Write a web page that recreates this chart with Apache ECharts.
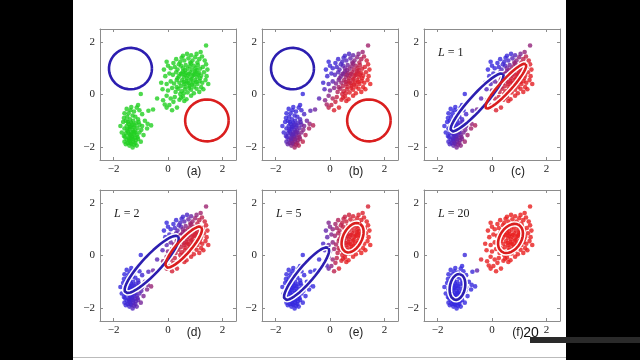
<!DOCTYPE html>
<html><head><meta charset="utf-8">
<script src="https://cdn.jsdelivr.net/npm/echarts@6/dist/echarts.min.js"></script>
<style>html,body{margin:0;padding:0;background:#fff}#c{width:640px;height:360px}</style>
</head><body><div id="c"></div>
<script>
// ---------- data ----------
const tickValues = [-2, 0, 2];
const panelLabels = ['(a)', '(b)', '(c)', '(d)', '(e)', '(f)'];
const iterLabels = ['', '', '1', '2', '5', '20'];

// standardized (eruption, waiting) points: lower-left cluster
const lowerCluster = [
[-1.52,-0.55],[-1.38,-0.60],[-1.45,-0.72],[-1.60,-0.72],[-1.25,-0.65],[-1.15,-0.50],[-1.05,-0.60],[-0.95,-0.75],
[-1.30,-0.80],[-1.50,-0.85],[-1.20,-0.85],[-1.10,-0.95],[-1.40,-0.95],[-1.55,-1.00],[-1.65,-1.05],[-1.28,-1.00],
[-1.35,-1.08],[-1.18,-1.10],[-1.45,-1.12],[-1.05,-1.15],[-0.75,-1.12],[-0.62,-1.18],[-1.52,-1.20],[-1.38,-1.22],
[-1.25,-1.25],[-1.12,-1.28],[-1.60,-1.30],[-1.42,-1.32],[-1.30,-1.35],[-1.20,-1.38],[-0.98,-1.35],[-1.48,-1.40],
[-1.35,-1.45],[-1.55,-1.48],[-1.25,-1.50],[-1.40,-1.55],[-1.15,-1.55],[-1.62,-1.58],[-1.30,-1.60],[-1.45,-1.65],
[-1.22,-1.65],[-1.35,-1.70],[-1.52,-1.72],[-1.10,-1.70],[-1.42,-1.78],[-1.28,-1.80],[-1.60,-1.80],[-1.48,-1.85],
[-1.35,-1.88],[-1.20,-1.85],[-1.42,-1.95],[-1.30,-2.02],[-1.55,-1.90],[-1.15,-1.95],[-1.00,-1.80],[-0.90,-1.55],
[-1.05,-1.45],[-1.70,-1.45],[-1.75,-1.20],[-0.85,-1.00],[-1.00,0.02],[-0.72,-0.62],[-1.10,-0.40],[-1.35,-0.48],
[-1.48,-1.05],[-1.32,-1.15],[-1.58,-1.62],[-1.18,-1.75],[-1.40,-1.25],[-1.27,-1.42],[-1.45,-1.50],[-1.33,-1.62],
[-1.50,-1.35],[-1.23,-1.18],[-1.38,-1.85],[-1.25,-1.92],[-1.12,-1.62],[-0.95,-1.20],[-0.77,-1.30],[-1.62,-0.90],
[-1.08,-1.05],[-1.42,-1.70],[-1.28,-1.72],[-1.36,-1.52],[-1.20,-1.45]
];
// upper-right cluster
const upperCluster = [
[1.40,1.87],[1.05,1.55],[0.85,1.50],[1.20,1.62],[0.55,1.48],[0.70,1.55],
[0.30,1.35],[0.45,1.25],[0.60,1.30],[0.75,1.38],[0.90,1.30],[1.00,1.42],[1.15,1.35],[1.25,1.45],[1.35,1.30],
[-0.05,1.25],[0.20,1.20],[0.82,1.22],[1.08,1.22],[0.50,1.40],
[0.10,1.00],[0.25,1.05],[0.35,0.95],[0.48,1.10],[0.55,1.00],[0.65,1.12],[0.72,0.98],[0.80,1.08],[0.88,0.95],
[0.95,1.10],[1.02,1.00],[1.10,1.12],[1.18,0.98],[1.28,1.05],[1.40,1.15],[0.40,1.15],[0.62,0.92],[0.85,1.18],
[1.05,0.92],[-0.15,0.95],[0.00,1.10],[1.45,0.95],
[-0.10,0.70],[0.05,0.80],[0.18,0.75],[0.30,0.85],[0.40,0.70],[0.50,0.80],[0.58,0.68],[0.66,0.82],[0.74,0.72],
[0.82,0.85],[0.90,0.70],[0.98,0.80],[1.06,0.68],[1.14,0.82],[1.22,0.72],[1.32,0.85],[1.42,0.70],[0.35,0.62],
[0.55,0.88],[0.70,0.62],[0.86,0.60],[1.00,0.88],[1.18,0.62],[0.62,0.75],[0.78,0.78],[0.94,0.75],[1.10,0.76],[0.46,0.78],
[-0.25,0.45],[-0.05,0.40],[0.10,0.50],[0.22,0.42],[0.32,0.55],[0.42,0.45],[0.52,0.55],[0.60,0.40],[0.68,0.52],
[0.76,0.42],[0.84,0.55],[0.92,0.45],[1.00,0.55],[1.08,0.40],[1.16,0.52],[1.26,0.45],[1.38,0.55],[1.48,0.40],
[0.48,0.32],[0.64,0.30],[0.80,0.32],[0.96,0.30],[0.58,0.48],[0.72,0.46],[0.88,0.38],[1.04,0.48],
[-0.20,0.20],[0.00,0.15],[0.15,0.25],[0.28,0.10],[0.38,0.22],[0.50,0.12],[0.62,0.20],[0.72,0.08],[0.85,0.18],
[0.95,0.05],[1.05,0.22],[1.15,0.10],[1.30,0.20],[0.45,0.02],[0.58,0.05],[0.78,0.25],[1.22,0.28],[0.32,0.28],
[-0.40,-0.15],[-0.18,-0.22],[-0.05,-0.05],[0.10,-0.15],[0.25,-0.10],[0.42,-0.20],[0.55,-0.08],[0.68,-0.18],
[0.85,-0.05],[0.60,-0.25],[0.48,-0.12],[0.20,-0.28],
[-0.55,-0.57],[-0.05,-0.50],[0.33,-0.50],[-0.12,-0.38],[0.05,-0.40],[0.15,-0.60]
];

// Gaussian components per panel (a..f): mean, semi-axes of drawn contour, angle (deg), weight
const blueMeanX = [-1.38, -1.38, -0.55, -0.60, -0.86, -1.27];
const blueMeanY = [ 0.99,  0.99, -0.30, -0.34, -0.69, -1.20];
const blueMajor = [ 0.79,  0.79,  1.45,  1.44,  1.27,  0.50];
const blueMinor = [ 0.79,  0.79,  0.28,  0.34,  0.30,  0.28];
const blueAngle = [    0,     0,    49,    48,    51,    80];
const redMeanX  = [ 1.43,  1.43,  0.51,  0.58,  0.83,  0.68];
const redMeanY  = [-0.99, -0.99,  0.32,  0.32,  0.68,  0.65];
const redMajor  = [ 0.80,  0.80,  1.12,  1.00,  0.60,  0.60];
const redMinor  = [ 0.80,  0.80,  0.22,  0.26,  0.35,  0.40];
const redAngle  = [    0,     0,    49,    50,    65,    60];
const redWeight = [  0.5,   0.5,   0.5,   0.5,  0.58,  0.63];

// ---------- drawing ----------
const points = lowerCluster.concat(upperCluster);
const BLUE = [52, 40, 222], RED = [232, 30, 30];
const gridLeft = [100, 262, 424], gridTop = [29, 190], W = 136, H = 131;
const fmt = v => v < 0 ? '\u2212' + Math.abs(v) : String(v);

function logComp(x, y, mx, my, a, b, ang, w) {
  const t = ang * Math.PI / 180, dx = x - mx, dy = y - my;
  const u = dx * Math.cos(t) + dy * Math.sin(t), v = -dx * Math.sin(t) + dy * Math.cos(t);
  return Math.log(w) - Math.log(a * b) - 0.5 * (u * u / (a * a) + v * v / (b * b));
}
function ellipse(mx, my, a, b, ang) {
  const t = ang * Math.PI / 180, out = [];
  for (let k = 0; k <= 90; k++) {
    const s = k / 90 * 2 * Math.PI;
    out.push([mx + a * Math.cos(s) * Math.cos(t) - b * Math.sin(s) * Math.sin(t),
              my + a * Math.cos(s) * Math.sin(t) + b * Math.sin(s) * Math.cos(t)]);
  }
  return out;
}
const mix = r => 'rgb(' + [0,1,2].map(j => Math.round(BLUE[j] * (1 - r) + RED[j] * r)).join(',') + ')';

const grids = [], xAxes = [], yAxes = [], series = [], graphics = [];
const lab = {customValues: tickValues, formatter: fmt, fontFamily: 'Liberation Serif', fontSize: 11, color: '#222'};
for (let i = 0; i < 6; i++) {
  const col = i % 3, row = Math.floor(i / 3);
  grids.push({left: gridLeft[col], top: gridTop[row], width: W, height: H});
  const common = {type: 'value', min: -2.5, max: 2.5, gridIndex: i, splitLine: {show: false},
    axisLine: {show: true, onZero: false, lineStyle: {color: '#8c8c8c', width: 1}},
    axisTick: {show: true, inside: true, length: 3, customValues: tickValues, lineStyle: {color: '#8c8c8c'}}};
  xAxes.push(Object.assign({}, common, {position: 'bottom', axisLabel: Object.assign({margin: 4}, lab)}));
  xAxes.push(Object.assign({}, common, {position: 'top', axisLabel: {show: false}}));
  yAxes.push(Object.assign({}, common, {position: 'left', axisLabel: Object.assign({margin: 5}, lab)}));
  yAxes.push(Object.assign({}, common, {position: 'right', axisLabel: {show: false}}));

  const data = points.map(p => {
    let color = 'rgb(34,208,34)';
    if (i > 0) {
      const lr = logComp(p[0], p[1], redMeanX[i], redMeanY[i], redMajor[i], redMinor[i], redAngle[i], redWeight[i]);
      const lb = logComp(p[0], p[1], blueMeanX[i], blueMeanY[i], blueMajor[i], blueMinor[i], blueAngle[i], 1 - redWeight[i]);
      color = mix(1 / (1 + Math.exp(lb - lr)));
    }
    return {value: p, itemStyle: {color: color}};
  });
  series.push({type: 'scatter', xAxisIndex: 2 * i, yAxisIndex: 2 * i, symbolSize: 4.6, data: data, z: 2, silent: true});
  const comps = [
    [blueMeanX[i], blueMeanY[i], blueMajor[i], blueMinor[i], blueAngle[i], 'rgb(44,30,176)'],
    [redMeanX[i], redMeanY[i], redMajor[i], redMinor[i], redAngle[i], 'rgb(218,30,30)']];
  comps.forEach(c => {
    const d = ellipse(c[0], c[1], c[2], c[3], c[4]);
    series.push({type: 'line', xAxisIndex: 2 * i, yAxisIndex: 2 * i, data: d, showSymbol: false, symbol: 'none',
      lineStyle: {color: '#fff', width: 5.5}, z: 3, silent: true});
    series.push({type: 'line', xAxisIndex: 2 * i, yAxisIndex: 2 * i, data: d, showSymbol: false, symbol: 'none',
      lineStyle: {color: c[5], width: 2.6}, z: 4, silent: true});
  });
  // panel letter
  graphics.push({type: 'text', x: gridLeft[col] + 94, y: gridTop[row] + 143, z: 10,
    style: {text: panelLabels[i], font: '12px "Liberation Sans"', fill: '#222', textAlign: 'center', textVerticalAlign: 'middle'}});
  if (iterLabels[i]) {
    graphics.push({type: 'text', x: gridLeft[col] + 14, y: gridTop[row] + 24, z: 10,
      style: {text: '{i|L} = ' + iterLabels[i], font: '12px "Liberation Serif"', fill: '#222', textVerticalAlign: 'middle',
        rich: {i: {fontStyle: 'italic', fontFamily: 'Liberation Serif', fontSize: 12, fill: '#222'}}}});
  }
}
graphics.push({type: 'text', x: 531, y: 333, z: 22,
  style: {text: '20', font: '14px "Liberation Sans"', fill: '#111', textAlign: 'center', textVerticalAlign: 'middle'}});
// slide surroundings
graphics.push({type: 'rect', shape: {x: 0, y: 0, width: 73, height: 360}, style: {fill: '#000'}, z: 20});
graphics.push({type: 'rect', shape: {x: 566, y: 0, width: 74, height: 360}, style: {fill: '#000'}, z: 20});
graphics.push({type: 'rect', shape: {x: 530, y: 337, width: 110, height: 6}, style: {fill: '#2a2a2a'}, z: 21});
graphics.push({type: 'rect', shape: {x: 73, y: 357, width: 493, height: 1}, style: {fill: '#bbb'}, z: 21});

const chart = echarts.init(document.getElementById('c'), null, {renderer: 'canvas'});
chart.setOption({backgroundColor: '#fff', animation: false, grid: grids, xAxis: xAxes, yAxis: yAxes,
  series: series, graphic: graphics});
</script></body></html>
